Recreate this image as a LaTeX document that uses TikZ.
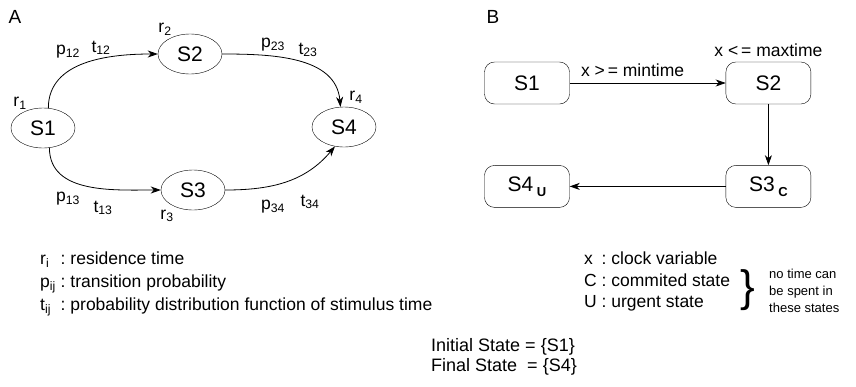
\documentclass[tikz,border=0pt]{standalone}
\usepackage{fontspec}
\setmainfont{Liberation Sans}
\usetikzlibrary{arrows.meta, positioning, shapes.geometric}

\begin{document}
\begin{tikzpicture}[
  x=1pt, y=-1pt,
  node distance=156pt,
  state/.style={draw, ellipse, minimum width=64pt, minimum height=40pt, inner sep=0pt, font=\fontsize{21}{21}\selectfont},
  loc/.style={draw, rounded corners=10pt, minimum width=85pt, minimum height=42pt, inner sep=0pt, font=\fontsize{21}{21}\selectfont},
  lbl/.style={inner sep=0pt, font=\fontsize{17.5}{17.5}\selectfont},
  note/.style={inner sep=0pt, align=left, anchor=west},
  small/.style={inner sep=0pt, anchor=base west, font=\fontsize{13}{13}\selectfont},
  arrow/.style={-{Stealth[length=10pt, width=7pt, inset=3pt]}, line width=0.8pt}
  ]
\useasboundingbox (0,0) rectangle (856,386);

% Panel A
\node[lbl, font=\fontsize{19}{19}\selectfont] (titleA) at (15,17) {A};
\node[state] (s1) at (43,128) {S1};
\node[state] (s2) at (190,54) {S2};
\node[state] (s3) at (193,190) {S3};
\node[state] (s4) at (344,127) {S4};

\node[lbl] (r1) at (20,103) {r\textsubscript{1}};
\node[lbl] (r2) at (165,29) {r\textsubscript{2}};
\node[lbl] (r3) at (167,216) {r\textsubscript{3}};
\node[lbl] (r4) at (356,97) {r\textsubscript{4}};

\draw[arrow] (s1.75) to[out=90, in=180] (s2.west);
\draw[arrow] (s2.east) to[out=0, in=95] (s4.100);
\draw[arrow] (s1.-72) to[out=-90, in=180] (s3.west);
\draw[arrow] (s3.east) to[out=0, in=-130] (s4.-115);

\node[lbl] (p12) at (68,52) {p\textsubscript{12}};
\node[lbl] (t12) at (101,48) {t\textsubscript{12}};
\node[lbl] (p23) at (273,45) {p\textsubscript{23}};
\node[lbl] (t23) at (308,50) {t\textsubscript{23}};
\node[lbl] (p13) at (68,199) {p\textsubscript{13}};
\node[lbl] (t13) at (103,208) {t\textsubscript{13}};
\node[lbl] (p34) at (273,207) {p\textsubscript{34}};
\node[lbl] (t34) at (310,202) {t\textsubscript{34}};

% Panel B
\node[lbl, font=\fontsize{19}{19}\selectfont] (titleB) at (493,17) {B};
\node[loc] (b1) at (527,83) {S1};
\node[loc, right=of b1] (b2) {S2};
\node[loc, below=61pt of b2] (b3) {S3\,\raisebox{-5pt}{\fontsize{13}{13}\selectfont\bfseries C}};
\node[loc, left=of b3] (b4) {S4\,\raisebox{-5pt}{\fontsize{13}{13}\selectfont\bfseries U}};

\draw[arrow] (b1) -- node[lbl, pos=0.07, anchor=south west, yshift=6pt] (guard) {x >\,= mintime} (b2);
\draw[arrow] (b2) -- (b3);
\draw[arrow] (b3) -- (b4);
\node[lbl, above=5pt of b2] (inv) {x <\,= maxtime};

% Legends
\node[note, font=\fontsize{17.5}{23}\selectfont] (legA) at (40,283) {%
  \begin{tabular}{@{}l@{\ :\ }l@{}}
  r\textsubscript{i}\  & residence time\\
  p\textsubscript{ij} & transition probability\\
  t\textsubscript{ij}\ & probability distribution function of stimulus time
  \end{tabular}};

\node[note, font=\fontsize{17.5}{21.5}\selectfont] (legB) at (584,282) {%
  \begin{tabular}{@{}l@{\ :\ }l@{}}
  x & clock variable\\
  C & commited state\\
  U & urgent state
  \end{tabular}};
\node[inner sep=0pt, font=\fontsize{44}{44}\selectfont] (brace) at (748,290) {\}};
\node[small] (nospend1) at (769,278) {no time can};
\node[small] (nospend2) at (769,295) {be spent in};
\node[small] (nospend3) at (769,312) {these states};

\node[note, font=\fontsize{18}{20}\selectfont] (initfinal) at (431,357) {Initial State = \{S1\}\\Final State~ = \{S4\}};
\end{tikzpicture}
\end{document}
